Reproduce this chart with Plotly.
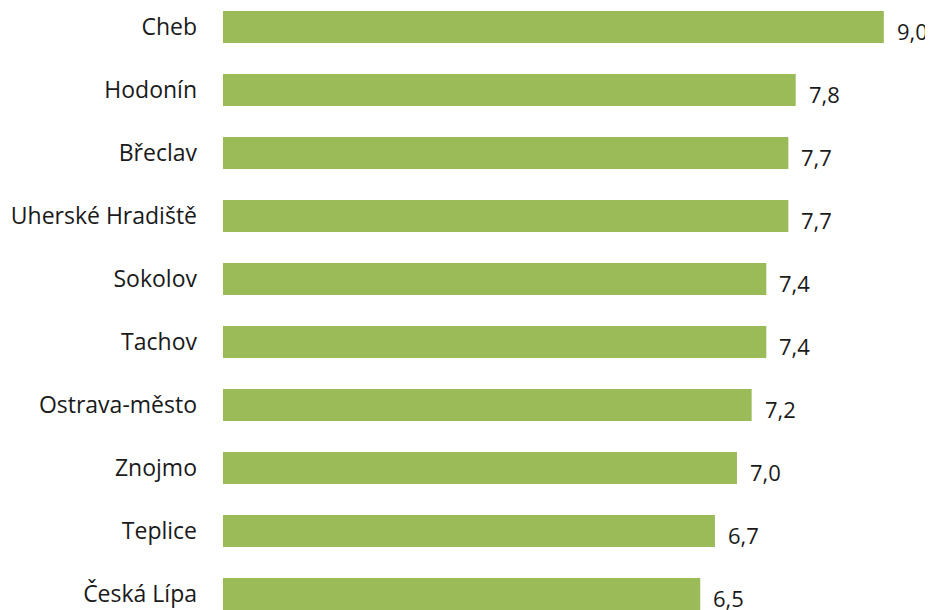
import plotly.graph_objects as go

categories = ["Cheb", "Hodonín", "Břeclav", "Uherské Hradiště", "Sokolov",
              "Tachov", "Ostrava-město", "Znojmo", "Teplice", "Česká Lípa"]
values = [9.0, 7.8, 7.7, 7.7, 7.4, 7.4, 7.2, 7.0, 6.7, 6.5]
value_labels = [f"{v:.1f}".replace(".", ",") for v in values]

FONT = "Open Sans, Noto Sans, sans-serif"
TEXT = "#1a1a1a"

fig = go.Figure()
fig.add_trace(go.Bar(
    x=values, y=categories, orientation="h",
    marker=dict(color="#9BBB59", line=dict(width=0)),
    width=0.51, hoverinfo="skip",
))

for c, v, t in zip(categories, values, value_labels):
    fig.add_annotation(x=v, y=c, text=t, showarrow=False, xanchor="left",
                       yanchor="middle", xshift=11, yshift=-4,
                       font=dict(family=FONT, size=22, color=TEXT))

# page body adds an 8px offset, so the figure is 8px smaller on each axis
fig.update_layout(
    width=925, height=602,
    margin=dict(l=215, r=0, t=0, b=0),
    paper_bgcolor="white", plot_bgcolor="white",
    showlegend=False,
    separators=", ",
    xaxis=dict(range=[0, 9.67], visible=False, fixedrange=True),
    yaxis=dict(type="category", categoryorder="array", categoryarray=categories,
               range=[9.254, -0.3016], showgrid=False, showline=False,
               zeroline=False, ticks="", ticklabelstandoff=25,
               tickfont=dict(family=FONT, size=23, color=TEXT)),
)

fig.write_html("out.html")
